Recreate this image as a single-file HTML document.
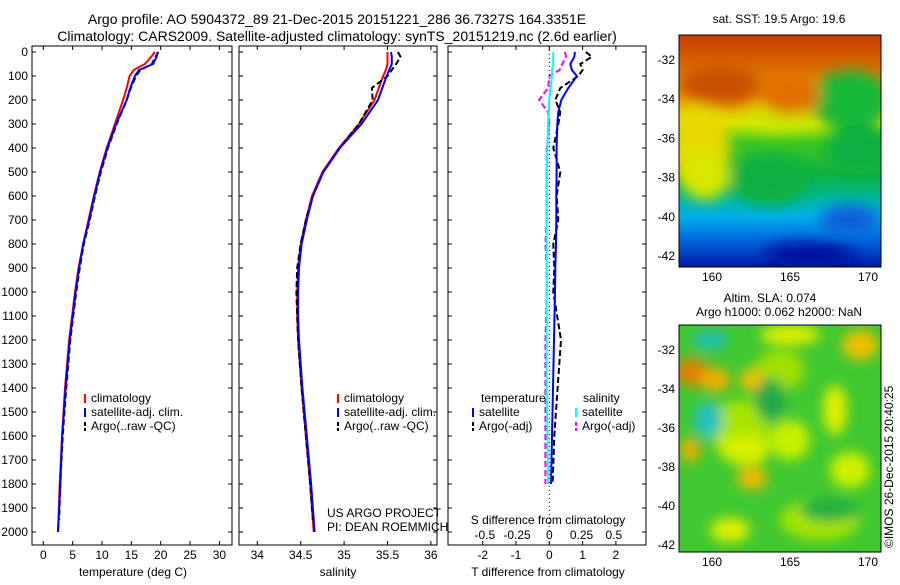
<!DOCTYPE html>
<html><head><meta charset="utf-8"><style>
body{margin:0;background:#fff;width:900px;height:580px;overflow:hidden}
svg text{font-family:"Liberation Sans",sans-serif;font-size:12px;fill:#000}
</style></head><body>
<svg id="c" width="900" height="580" xmlns="http://www.w3.org/2000/svg">
<defs>
<filter id="bl" x="-50%" y="-50%" width="200%" height="200%"><feGaussianBlur stdDeviation="7"/></filter>
<filter id="bl2" x="-50%" y="-50%" width="200%" height="200%"><feGaussianBlur stdDeviation="6"/></filter>
<linearGradient id="sstg" x1="0" y1="0" x2="0" y2="1">
<stop offset="0" stop-color="#c63c00"/><stop offset="0.12" stop-color="#d86400"/><stop offset="0.28" stop-color="#f0a000"/>
<stop offset="0.38" stop-color="#d8e800"/><stop offset="0.46" stop-color="#40c820"/><stop offset="0.6" stop-color="#10b040"/>
<stop offset="0.7" stop-color="#00b898"/><stop offset="0.78" stop-color="#00b0e8"/><stop offset="0.87" stop-color="#0070e0"/>
<stop offset="1" stop-color="#0018a8"/></linearGradient>
<clipPath id="m1c"><rect x="679" y="35" width="202" height="232"/></clipPath>
<clipPath id="m2c"><rect x="679" y="325" width="202" height="227"/></clipPath>
</defs>
<text x="337" y="24" text-anchor="middle" style="font-size:14px">Argo profile: AO 5904372_89 21-Dec-2015 20151221_286 36.7327S 164.3351E</text>
<text x="337" y="41" text-anchor="middle" style="font-size:14px">Climatology: CARS2009. Satellite-adjusted climatology: synTS_20151219.nc (2.6d earlier)</text>
<g id="plots"></g>
<text x="779" y="23" text-anchor="middle">sat. SST: 19.5 Argo: 19.6</text>
<g clip-path="url(#m1c)">
<rect x="679" y="35" width="202" height="232" fill="url(#sstg)"/>
<g filter="url(#bl)">
<ellipse cx="700" cy="150" rx="30" ry="45" fill="#e8d800"/>
<ellipse cx="705" cy="175" rx="25" ry="25" fill="#d8e800"/>
<ellipse cx="780" cy="118" rx="30" ry="12" fill="#c8e800"/>
<ellipse cx="850" cy="100" rx="40" ry="30" fill="#18b838"/>
<ellipse cx="860" cy="150" rx="35" ry="25" fill="#10b040"/>
<ellipse cx="720" cy="85" rx="40" ry="20" fill="#c85000"/>
<ellipse cx="790" cy="95" rx="30" ry="20" fill="#e07000"/>
<ellipse cx="770" cy="180" rx="40" ry="25" fill="#10b040"/>
<ellipse cx="850" cy="220" rx="30" ry="15" fill="#1060d8"/>
<ellipse cx="810" cy="255" rx="45" ry="12" fill="#0010a0"/>
</g></g>
<rect x="679" y="35" width="202" height="232" fill="none" stroke="#000"/>
<text x="770" y="302" text-anchor="middle">Altim. SLA: 0.074</text>
<text x="779" y="316" text-anchor="middle">Argo h1000: 0.062 h2000: NaN</text>
<g clip-path="url(#m2c)">
<rect x="679" y="325" width="202" height="227" fill="#40c830"/>
<g filter="url(#bl2)">
<ellipse cx="740" cy="430" rx="30" ry="30" fill="#a8e400"/>
<ellipse cx="820" cy="520" rx="40" ry="20" fill="#a8e400"/>
<ellipse cx="780" cy="370" rx="25" ry="20" fill="#a0e000"/>
<ellipse cx="710" cy="340" rx="18" ry="10" fill="#20c0b0"/>
<ellipse cx="708" cy="420" rx="14" ry="18" fill="#20c0c0"/>
<ellipse cx="692" cy="372" rx="18" ry="14" fill="#e08000"/>
<ellipse cx="715" cy="380" rx="15" ry="12" fill="#f0b000"/>
<ellipse cx="752" cy="380" rx="12" ry="12" fill="#f0c000"/>
<ellipse cx="790" cy="335" rx="30" ry="10" fill="#e0f000"/>
<ellipse cx="860" cy="345" rx="18" ry="15" fill="#f0c000"/>
<ellipse cx="835" cy="410" rx="12" ry="25" fill="#e0f000"/>
<ellipse cx="745" cy="450" rx="25" ry="15" fill="#d8f000"/>
<ellipse cx="752" cy="478" rx="15" ry="12" fill="#f0b800"/>
<ellipse cx="790" cy="440" rx="20" ry="20" fill="#c8f000"/>
<ellipse cx="850" cy="470" rx="20" ry="18" fill="#d0f000"/>
<ellipse cx="730" cy="530" rx="20" ry="12" fill="#e0f000"/>
<ellipse cx="690" cy="450" rx="10" ry="12" fill="#f0b000"/>
<ellipse cx="770" cy="400" rx="15" ry="22" fill="#20a848"/>
<ellipse cx="830" cy="510" rx="30" ry="12" fill="#20b040"/>
</g></g>
<rect x="679" y="325" width="202" height="227" fill="none" stroke="#000"/>
<text transform="translate(893,548) rotate(-90)">©IMOS 26-Dec-2015 20:40:25</text>
</svg>
<script>
const tempDepth=[0,20,50,75,100,150,200,300,400,500,600,700,800,900,1000,1100,1200,1400,1600,1800,2000];
const tempClim=[19.0,18.4,17.3,15.4,14.7,14.2,13.6,12.2,10.8,9.6,8.6,7.7,6.8,6.0,5.4,4.9,4.4,3.7,3.2,2.8,2.5];
const tempSat=[19.5,19.3,18.7,16.3,15.6,14.8,14.2,12.4,10.9,9.7,8.7,7.8,6.8,6.1,5.5,5.0,4.5,3.8,3.2,2.9,2.5];
const argoDepth=[0,20,50,75,100,150,200,300,400,500,600,700,800,900,1000,1100,1200,1400,1600,1800,1950];
const tempArgo=[19.6,19.1,18.5,16.5,15.8,14.9,14.2,12.5,11.0,9.8,8.8,7.9,6.9,6.2,5.6,5.1,4.6,3.9,3.3,2.9,2.7];
const salClim=[35.50,35.50,35.50,35.48,35.45,35.40,35.35,35.17,34.94,34.75,34.63,34.56,34.50,34.47,34.46,34.46,34.47,34.51,34.56,34.61,34.65];
const salSat=[35.54,35.55,35.55,35.52,35.49,35.44,35.39,35.20,34.95,34.76,34.64,34.57,34.51,34.48,34.47,34.47,34.48,34.52,34.57,34.62,34.66];
const salArgo=[35.62,35.65,35.60,35.55,35.50,35.32,35.33,35.17,34.95,34.76,34.64,34.56,34.50,34.46,34.45,34.46,34.47,34.51,34.56,34.61,34.64];
const diffDepth=[0,20,50,75,100,150,200,250,300,400,500,600,700,800,900,1000,1200,1400,1600,1800];
const dTsat=[0.77,0.75,0.63,0.68,0.83,0.57,0.36,0.27,0.24,0.22,0.22,0.21,0.21,0.20,0.18,0.17,0.14,0.11,0.08,0.05];
const dSsat=[0.03,0.03,0.03,0.02,0.02,0.01,0,-0.005,-0.01,-0.015,-0.02,-0.02,-0.02,-0.02,-0.02,-0.02,-0.02,-0.02,-0.015,-0.01];
const dTargo=[1.1,1.28,0.93,1.0,0.87,0.33,0.18,0.33,0.27,0.12,0.33,0.22,0.27,0.12,0.15,0.12,0.35,0.25,0.15,0.1];
const dSargo=[0.12,0.13,0.10,0.08,0.0,-0.01,-0.08,-0.01,0.0,-0.02,-0.02,-0.02,-0.02,-0.03,-0.02,-0.02,-0.03,-0.03,-0.03,-0.03];
const depthTicks=[0,100,200,300,400,500,600,700,800,900,1000,1100,1200,1300,1400,1500,1600,1700,1800,1900,2000];
const tempTicks=[0,5,10,15,20,25,30];
const salTicks=[34,34.5,35,35.5,36];
const tdTicks=[-2,-1,0,1,2];
const sdTicks=[-0.5,-0.25,0,0.25,0.5];
const latTicks=[-32,-34,-36,-38,-40,-42];
const lonTicks=[160,165,170];
const argoLon=164.3351, argoLat=-36.7327;

const NS='http://www.w3.org/2000/svg';
const G=document.getElementById('plots');
function mk(tag,attrs,parent){const e=document.createElementNS(NS,tag);for(const k in attrs)e.setAttribute(k,attrs[k]);(parent||G).appendChild(e);return e;}
const Y=d=>52+d*0.24;
const PTOP=46,PBOT=545;
const panels=[{x0:32,x1:232},{x0:239,x1:437},{x0:448,x1:646}];
const xT=t=>43.3+t*5.87;
const xS=s=>257.3+(s-34)*86.8;
const xTd=t=>549.3+t*33.3;
const xSd=s=>549.3+s*129;

panels.forEach((p,i)=>{
  const r=mk('rect',{x:p.x0,y:PTOP,width:p.x1-p.x0,height:PBOT-PTOP,fill:'none',stroke:'#000'});
  
  
  depthTicks.forEach(d=>{
    const l=mk('path',{d:`M${p.x0} ${Y(d)}h4M${p.x1} ${Y(d)}h-4`,stroke:'#000'});
    
    
  });
});
depthTicks.forEach(d=>{
  const t=mk('text',{x:28,y:Y(d)+4,'text-anchor':'end'});t.textContent=d;
  
  
});
function xticks(vals,fx,p,lbl,name,ly){
  vals.forEach(v=>{
    const x=fx(v);
    const l=mk('path',{d:`M${x} ${PTOP}v4M${x} ${PBOT}v-4`,stroke:'#000'});
    
    
    if(lbl){const t=mk('text',{x:x,y:ly,'text-anchor':'middle'});t.textContent=v;
      
      }
  });
}
xticks(tempTicks,xT,panels[0],true,'temperature',559);
xticks(salTicks,xS,panels[1],true,'salinity',559);
xticks(tdTicks,xTd,panels[2],true,'t-difference',559);
sdTicks.forEach(v=>{const t=mk('text',{x:xSd(v),y:539,'text-anchor':'middle'});t.textContent=v;
  
  });
function txt(x,y,s,name,anchor){const t=mk('text',{x:x,y:y,'text-anchor':anchor||'start'});t.textContent=s;
  
  return t;}
txt(133,576,'temperature (deg C)','x-axis-title-temperature','middle');
txt(338,576,'salinity','x-axis-title-salinity','middle');
txt(548,576,'T difference from climatology','x-axis-title-t-difference','middle');
txt(548,524,'S difference from climatology','s-difference-axis-title','middle');
txt(327,517,'US ARGO PROJECT','project-label');
txt(327,531,'PI: DEAN ROEMMICH','pi-label');
const z=mk('line',{x1:xTd(0),x2:xTd(0),y1:PTOP,y2:PBOT,stroke:'#000','stroke-dasharray':'1 3'});



function line(xs,ds,fx,color,name,dash){
  const pts=xs.map((v,i)=>fx(v).toFixed(1)+','+Y(ds[i]).toFixed(1)).join(' ');
  const a={points:pts,fill:'none',stroke:color,'stroke-width':2};
  if(dash)a['stroke-dasharray']=dash;
  const l=mk('polyline',a);
  
  
}
line(tempClim,tempDepth,xT,'#f00','temperature-climatology-line');
line(tempArgo,argoDepth,xT,'#000','temperature-argo-line','6 3');
line(tempSat,tempDepth,xT,'#00f','temperature-satellite-line');
line(salClim,tempDepth,xS,'#f00','salinity-climatology-line');
line(salArgo,argoDepth,xS,'#000','salinity-argo-line','6 3');
line(salSat,tempDepth,xS,'#00f','salinity-satellite-line');
line(dTargo,diffDepth,xTd,'#000','t-diff-argo-line','6 3');
line(dSargo,diffDepth,xSd,'#f0f','s-diff-argo-line','6 3');
line(dTsat,diffDepth,xTd,'#00f','t-diff-satellite-line');
line(dSsat,diffDepth,xSd,'#0ff','s-diff-satellite-line');

function leg(x,y,color,dash,label,name){
  const a={x1:x,x2:x,y1:y-6,y2:y+3,stroke:color,'stroke-width':2};
  if(dash)a['stroke-dasharray']=dash;
  const l=mk('line',a);
  
  
  txt(x+6,y+2,label,name);
}
[[85],[338]].forEach((p,i)=>{
  leg(p[0],400,'#f00',null,'climatology','legend-climatology-'+(i+1));
  leg(p[0],414,'#00f',null,'satellite-adj. clim.','legend-satellite-'+(i+1));
  leg(p[0],428,'#000','4 2','Argo(..raw -QC)','legend-argo-'+(i+1));
});
txt(481,402,'temperature','legend-temperature-heading');
leg(473,414,'#00f',null,'satellite','legend-t-satellite');
leg(473,428,'#000','4 2','Argo(-adj)','legend-t-argo');
txt(583,402,'salinity','legend-salinity-heading');
leg(576,414,'#0ff',null,'satellite','legend-s-satellite');
leg(576,428,'#f0f','4 2','Argo(-adj)','legend-s-argo');

function mapAxes(top,bot,lat0,lat1,name){
  const fy2=l=>lat0+(l+32)/(-10)*(lat1-lat0);
  latTicks.forEach(l=>{const y=fy2(l);
    const t=mk('path',{d:`M679 ${y}h4M881 ${y}h-4`,stroke:'#000'});
    
    
    txt(675,y+4,l,name+'-lat-label','end');});
  const fx=l=>712+(l-160)*15.6;
  lonTicks.forEach(l=>{const x=fx(l);
    const t=mk('path',{d:`M${x} ${top}v4M${x} ${bot}v-4`,stroke:'#000'});
    
    
    txt(x,bot+14,l,name+'-lon-label','middle');});
  const c=mk('circle',{cx:fx(argoLon),cy:fy2(argoLat),r:5,fill:'none',stroke:'#000'});
  
  
}
mapAxes(35,267,60,256,'sst-map');
mapAxes(325,552,350,545,'sla-map');
</script>
</body></html>
